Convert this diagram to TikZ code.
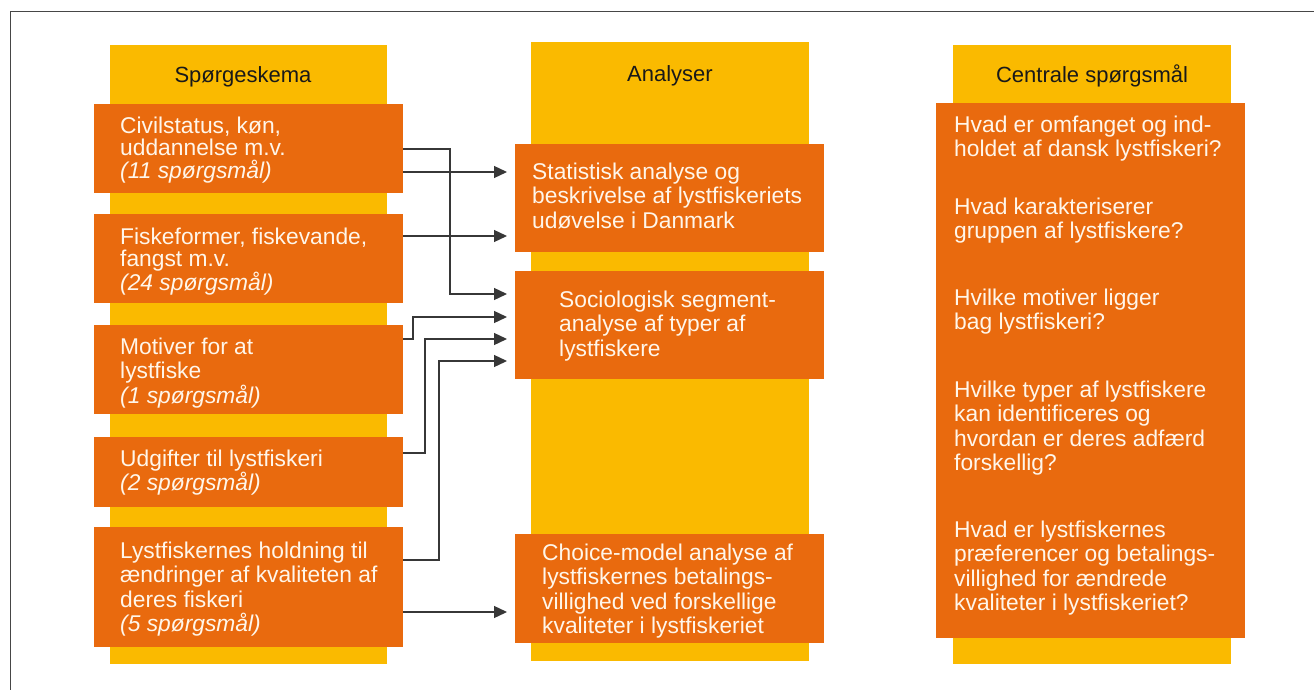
\documentclass[tikz,border=0pt]{standalone}
\usepackage{fontspec}
\setmainfont{Liberation Sans}
\usetikzlibrary{arrows.meta,calc}
\definecolor{ybar}{RGB}{250,186,0}
\definecolor{obar}{RGB}{233,106,14}
\definecolor{txtc}{RGB}{255,246,234}
\definecolor{linec}{RGB}{55,55,55}
\definecolor{framec}{RGB}{70,70,70}
\begin{document}
\begin{tikzpicture}[x=1pt,y=-1pt,
  colbox/.style={fill=ybar,draw=none,inner sep=0pt,outer sep=0pt},
  obox/.style={fill=obar,draw=none,inner sep=0pt,outer sep=0pt},
  hdr/.style={anchor=base,inner sep=0pt,font=\fontsize{22}{24}\selectfont,text=black!90},
  txt/.style={anchor=north west,inner sep=0pt,align=left,text=txtc,font=\fontsize{22.8}{24.5}\selectfont},
  txtl/.style={txt,font=\fontsize{22.8}{22.5}\selectfont},
  conn/.style={draw=linec,line width=1.3pt,-{Triangle[length=13pt,width=12pt]}}]
\useasboundingbox (0,0) rectangle (1314,690);
\fill[white] (0,0) rectangle (1314,690);
\draw[framec,line width=1pt] (10,690) -- (10,12) -- (1314,12);
% columns
\node[colbox,minimum width=277pt,minimum height=619pt] (Y1) at (248.5,354.5) {};
\node[colbox,minimum width=278pt,minimum height=619pt] (Y2) at (670,351.5) {};
\node[colbox,minimum width=278pt,minimum height=619pt] (Y3) at (1092,354.5) {};
% headers
\node[hdr] (H1) at (243,83) {Spørgeskema};
\node[hdr] (H2) at (670,82) {Analyser};
\node[hdr] (H3) at (1092,83) {Centrale spørgsmål};
% left boxes
\node[obox,minimum width=309pt,minimum height=89pt] (L1) at (248.5,148.5) {};
\node[obox,minimum width=309pt,minimum height=89pt] (L2) at (248.5,258.5) {};
\node[obox,minimum width=309pt,minimum height=89pt] (L3) at (248.5,369.5) {};
\node[obox,minimum width=309pt,minimum height=70pt] (L4) at (248.5,472) {};
\node[obox,minimum width=309pt,minimum height=120pt] (L5) at (248.5,587) {};
% middle boxes
\node[obox,minimum width=309pt,minimum height=108pt] (M1) at (669.5,198) {};
\node[obox,minimum width=309pt,minimum height=108pt] (M2) at (669.5,325) {};
\node[obox,minimum width=309pt,minimum height=109pt] (M3) at (669.5,588.5) {};
% right box
\node[obox,minimum width=309pt,minimum height=535pt] (R) at (1090.5,370.5) {};
% texts left
\node[txtl] (L1t) at (120,115) {\rule{0pt}{18pt}Civilstatus, køn,\\uddannelse m.v.\\{\itshape (11 spørgsmål)}};
\node[txtl] (L2t) at (120,226) {\rule{0pt}{18pt}Fiskeformer, fiskevande,\\fangst m.v.\\{\itshape (24 spørgsmål)}};
\node[txt] (L3t) at (120,336) {\rule{0pt}{18pt}Motiver for at\\lystfiske\\{\itshape (1 spørgsmål)}};
\node[txt] (L4t) at (120,448) {\rule{0pt}{18pt}Udgifter til lystfiskeri\\{\itshape (2 spørgsmål)}};
\node[txt] (L5t) at (120,540) {\rule{0pt}{18pt}Lystfiskernes holdning til\\ændringer af kvaliteten af\\deres fiskeri\\{\itshape (5 spørgsmål)}};
% texts middle
\node[txt] (M1t) at (532,161) {\rule{0pt}{18pt}Statistisk analyse og\\beskrivelse af lystfiskeriets\\udøvelse i Danmark};
\node[txt] (M2t) at (559,289) {\rule{0pt}{18pt}Sociologisk segment-\\analyse af typer af\\lystfiskere};
\node[txt] (M3t) at (542,542) {\rule{0pt}{18pt}Choice-model analyse af\\lystfiskernes betalings-\\villighed ved forskellige\\kvaliteter i lystfiskeriet};
% texts right
\node[txt] (R1t) at (954,114) {\rule{0pt}{18pt}Hvad er omfanget og ind-\\holdet af dansk lystfiskeri?};
\node[txt] (R2t) at (954,196) {\rule{0pt}{18pt}Hvad karakteriserer\\gruppen af lystfiskere?};
\node[txt] (R3t) at (954,287) {\rule{0pt}{18pt}Hvilke motiver ligger\\bag lystfiskeri?};
\node[txt] (R4t) at (954,379) {\rule{0pt}{18pt}Hvilke typer af lystfiskere\\kan identificeres og\\hvordan er deres adfærd\\forskellig?};
\node[txt] (R5t) at (954,519) {\rule{0pt}{18pt}Hvad er lystfiskernes\\præferencer og betalings-\\villighed for ændrede\\kvaliteter i lystfiskeriet?};
% connectors
\draw[conn] ($(L1.north east)+(0,45)$) -- ++(47,0) |- ($(M2.north west)+(-8,23)$);
\draw[conn] ($(L1.north east)+(0,68)$) -- ($(M1.north west)+(-8,28)$);
\draw[conn] ($(L2.north east)+(0,22)$) -- ($(M1.north west)+(-8,92)$);
\draw[conn] ($(L3.north east)+(0,14)$) -- ++(10,0) |- ($(M2.north west)+(-8,46)$);
\draw[conn] ($(L4.north east)+(0,16)$) -- ++(22,0) |- ($(M2.north west)+(-8,68)$);
\draw[conn] ($(L5.north east)+(0,33)$) -- ++(36,0) |- ($(M2.north west)+(-8,90)$);
\draw[conn] ($(L5.north east)+(0,85)$) -- ($(M3.north west)+(-8,78)$);
\end{tikzpicture}
\end{document}
